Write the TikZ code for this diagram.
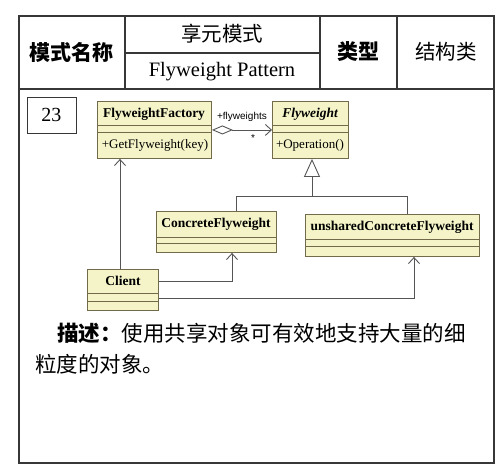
\documentclass[tikz,border=0pt]{standalone}
\usepackage{fontspec}
\setmainfont{Liberation Serif}
\newfontfamily\cjk{Noto Sans CJK SC}
\newfontfamily\sansf{Liberation Sans}
\usetikzlibrary{arrows.meta,calc}
\definecolor{umlfill}{RGB}{244,244,200}
\definecolor{umlline}{RGB}{115,105,75}
\definecolor{frameline}{RGB}{55,55,55}
\definecolor{connc}{RGB}{85,85,85}
\begin{document}
\begin{tikzpicture}[x=1pt,y=-1pt,
  frame/.style={draw=frameline,line width=1.2pt},
  cell/.style={inner sep=0pt,anchor=center},
  hbold/.style={cell,font=\cjk\fontsize{21}{24}\selectfont\bfseries},
  hreg/.style={cell,font=\cjk\fontsize{20.5}{24}\selectfont},
  classbox/.style={draw=umlline,fill=umlfill,line width=0.9pt,anchor=north west,inner sep=0pt},
  divline/.style={draw=umlline,line width=0.9pt},
  ctitle/.style={inner sep=0pt,font=\fontsize{13.5}{15}\selectfont\bfseries},
  cop/.style={inner sep=0pt,font=\fontsize{13}{15}\selectfont},
  connline/.style={draw=connc,line width=0.9pt},
  openv/.style={-{Straight Barb[length=6pt,width=11pt]}},
  small/.style={inner sep=0pt,font=\sansf\fontsize{10}{12}\selectfont}
]
\useasboundingbox (0,0) rectangle (504,471);
% frame and header table
\draw[frame] (19,16) rectangle (494,463);
\draw[frame] (19,89) -- (494,89);
\draw[frame] (125,16) -- (125,89);
\draw[frame] (320,16) -- (320,89);
\draw[frame] (397,16) -- (397,89);
\draw[frame] (125,53) -- (320,53);
\node[hbold] (hname) at (72,52) {模式名称};
\node[hreg] (hcn) at (222,34) {享元模式};
\node[cell,font=\fontsize{20.5}{24}\selectfont] (hen) at (222,72) {Flyweight Pattern};
\node[hbold] (htype) at (358,52) {类型};
\node[hreg] (hval) at (446,52) {结构类};
% number box
\node[draw=frameline,line width=1pt,minimum width=49pt,minimum height=36pt,inner sep=0pt,font=\fontsize{20}{22}\selectfont] (num) at (51.5,115) {23};
% classes
\node[classbox,minimum width=114pt,minimum height=57pt] (ff) at (97,101) {};
\draw[divline] ($(ff.north west)+(0,24)$) -- ($(ff.north east)+(0,24)$);
\draw[divline] ($(ff.north west)+(0,31)$) -- ($(ff.north east)+(0,31)$);
\node[ctitle] (ffT) at (154,114) {FlyweightFactory};
\node[cop] (ffO) at (155,145) {+GetFlyweight(key)};

\node[classbox,minimum width=76pt,minimum height=57pt] (fw) at (272,101) {};
\draw[divline] ($(fw.north west)+(0,24)$) -- ($(fw.north east)+(0,24)$);
\draw[divline] ($(fw.north west)+(0,31)$) -- ($(fw.north east)+(0,31)$);
\node[ctitle,font=\fontsize{13.5}{15}\selectfont\bfseries\itshape] (fwT) at (310,114) {Flyweight};
\node[cop] (fwO) at (310,145) {+Operation()};

\node[classbox,minimum width=120pt,minimum height=41pt] (cf) at (156,211) {};
\draw[divline] ($(cf.north west)+(0,26)$) -- ($(cf.north east)+(0,26)$);
\draw[divline] ($(cf.north west)+(0,32)$) -- ($(cf.north east)+(0,32)$);
\node[ctitle] (cfT) at (216,224) {ConcreteFlyweight};

\node[classbox,minimum width=174pt,minimum height=42pt] (ucf) at (305,214) {};
\draw[divline] ($(ucf.north west)+(0,25)$) -- ($(ucf.north east)+(0,25)$);
\draw[divline] ($(ucf.north west)+(0,32)$) -- ($(ucf.north east)+(0,32)$);
\node[ctitle] (ucfT) at (392,227) {unsharedConcreteFlyweight};

\node[classbox,minimum width=71pt,minimum height=41pt] (cl) at (87,269) {};
\draw[divline] ($(cl.north west)+(0,24)$) -- ($(cl.north east)+(0,24)$);
\draw[divline] ($(cl.north west)+(0,32)$) -- ($(cl.north east)+(0,32)$);
\node[ctitle] (clT) at (123,281) {Client};

% aggregation
\draw[connline,{Diamond[open,length=21pt,width=9pt]}-{Straight Barb[length=6pt,width=11pt]}] (ff.east) -- (fw.west);
\node[small] (aggl) at (242,117) {+flyweights};
\node[small] (aggm) at (253,138) {*};
% generalization
\coordinate (gj) at (312,196);
\coordinate (gl) at (236,196);
\coordinate (gr) at (407,196);
\draw[connline,-{Triangle[open,length=18pt,width=16pt]}] (gj) -- (fw.south -| gj);
\draw[connline] (cf.north -| gl) -- (gl) -- (gr) -- (ucf.north -| gr);
% client associations
\coordinate (c0) at (120,200);
\coordinate (c1) at (232,281);
\coordinate (c2) at (414,298);
\draw[connline,openv] (cl.north -| c0) -- (ff.south -| c0);
\draw[connline,openv] (cl.east |- c1) -- (c1) -- (cf.south -| c1);
\draw[connline,openv] (cl.east |- c2) -- (c2) -- (ucf.south -| c2);
% description
\node[anchor=west,inner sep=0pt,font=\cjk\fontsize{21.5}{24}\selectfont] (d1) at (57,333) {\textbf{描述：}使用共享对象可有效地支持大量的细};
\node[anchor=west,inner sep=0pt,font=\cjk\fontsize{21.5}{24}\selectfont] (d2) at (35,364) {粒度的对象。};
\end{tikzpicture}
\end{document}
